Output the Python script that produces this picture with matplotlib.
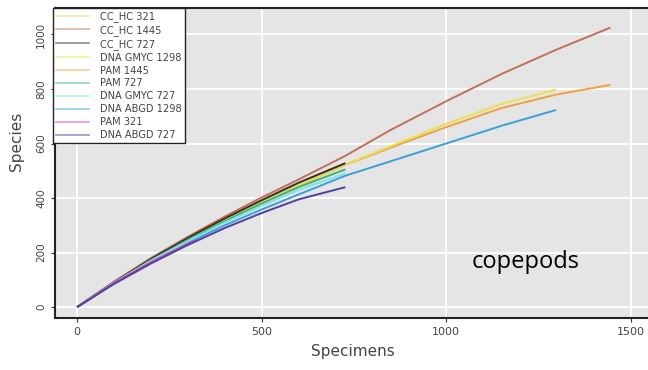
import numpy as np
import matplotlib
matplotlib.use('Agg')
import matplotlib.pyplot as plt
from matplotlib.lines import Line2D

plt.rcParams['font.family'] = ['DejaVu Sans']

# rarefaction curves (specimens -> species)
x_1445 = [0, 100, 200, 300, 400, 500, 600, 727, 850, 1000, 1150, 1300, 1445]
x_1298 = [0, 100, 200, 300, 400, 500, 600, 727, 850, 1000, 1150, 1298]
x_727 = [0, 100, 200, 300, 400, 500, 600, 727]
x_321 = [0, 100, 200, 300, 321]

cc_hc_321 = [0, 93, 178, 255, 270]
cc_hc_1445 = [0, 93, 180, 258, 332, 402, 468, 555, 650, 755, 855, 945, 1025]
cc_hc_727 = [0, 92, 177, 254, 325, 392, 456, 528]
gmyc_1298 = [0, 92, 175, 250, 320, 385, 446, 523, 590, 672, 745, 798]
pam_1445 = [0, 92, 175, 250, 320, 385, 445, 522, 585, 660, 730, 780, 815]
pam_727 = [0, 90, 172, 246, 315, 380, 440, 505]
gmyc_727 = [0, 89, 170, 242, 310, 372, 430, 490]
abgd_1298 = [0, 88, 165, 235, 300, 358, 413, 482, 535, 600, 665, 723]
pam_321 = [0, 88, 165, 232, 245]
abgd_727 = [0, 85, 160, 228, 290, 345, 395, 440]

labels = ['CC_HC 321', 'CC_HC 1445', 'CC_HC 727', 'DNA GMYC 1298', 'PAM 1445',
          'PAM 727', 'DNA GMYC 727', 'DNA ABGD 1298', 'PAM 321', 'DNA ABGD 727']
series = [(x_321, cc_hc_321), (x_1445, cc_hc_1445), (x_727, cc_hc_727),
          (x_1298, gmyc_1298), (x_1445, pam_1445), (x_727, pam_727),
          (x_727, gmyc_727), (x_1298, abgd_1298), (x_321, pam_321), (x_727, abgd_727)]
colors = ['#F0D264', '#C0705A', '#3A2A2A', '#E8E050', '#F0A040',
          '#3CB371', '#7FE0E8', '#3AA0D8', '#E040C0', '#5040A0']

fig = plt.figure(figsize=(6.48, 3.70), dpi=100)
ax = fig.add_axes([55/648, 52/370, 593/648, 310/370])
ax.set_facecolor('#E5E5E5')

# draw long curves first so short ones sit on top, like the picture
order = [1, 4, 3, 7, 0, 2, 5, 6, 8, 9]
for i in order:
    xs, ys = series[i]
    ax.plot(xs, ys, color=colors[i], lw=1.4, solid_capstyle='butt')

ax.set_xlim(-60, 1547)
ax.set_ylim(-40, 1097)
ax.set_xticks([0, 500, 1000, 1500])
ax.set_yticks([0, 200, 400, 600, 800, 1000])
ax.grid(True, color='white', lw=1.3)
ax.set_axisbelow(True)
ax.tick_params(axis='x', labelsize=8, colors='#333333', length=3, labelcolor='#444444')
ax.tick_params(axis='y', labelsize=7.5, colors='#333333', length=3, labelcolor='#444444')
for lab in ax.get_yticklabels():
    lab.set_rotation(90)
    lab.set_va('center')

for side in ['left', 'bottom', 'top']:
    ax.spines[side].set_color('#222222')
    ax.spines[side].set_linewidth(1.5)
ax.spines['right'].set_visible(False)

ax.set_xlabel('Specimens', fontsize=11, color='#444444')
ax.set_ylabel('Species', fontsize=11, color='#444444')
ax.xaxis.set_label_coords(0.503, -0.085)
ax.yaxis.set_label_coords(-0.052, 0.57)

handles = [Line2D([0], [0], color=c, lw=1.2, alpha=0.55) for c in colors]
leg = ax.legend(handles, labels, loc='upper left', bbox_to_anchor=(-0.004, 1.0),
                borderaxespad=0, fontsize=7.1, labelspacing=0.3, handlelength=3.4,
                handletextpad=1.1, fancybox=False, framealpha=1, edgecolor='#222222',
                borderpad=0.3)
leg.get_frame().set_linewidth(1.0)
for t in leg.get_texts():
    t.set_color('#444444')

ax.text(0.793, 0.18, 'copepods', transform=ax.transAxes, fontsize=17,
        family='Open Sans', ha='center', va='center', color='black')

plt.savefig('out.png', dpi=100)
